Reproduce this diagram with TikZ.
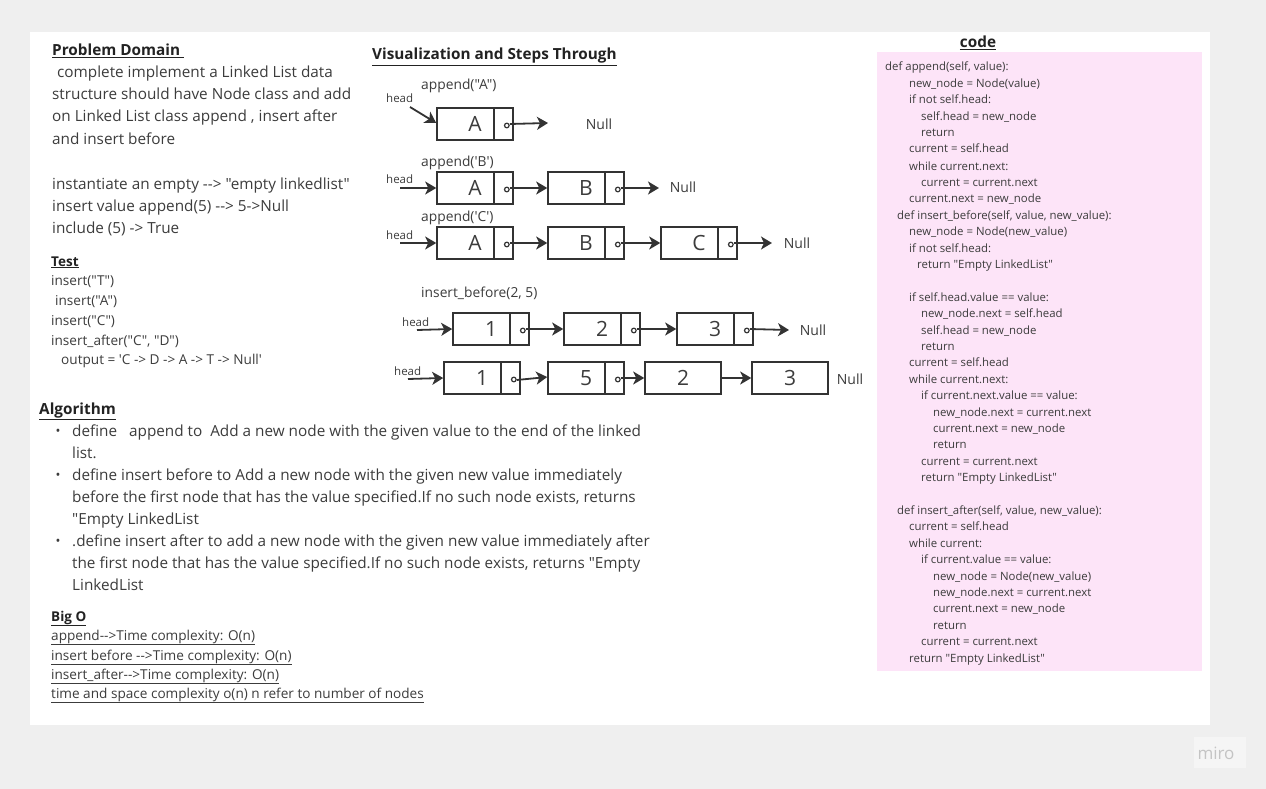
\documentclass[tikz,border=0pt]{standalone}
\usepackage{fontspec}
\setmainfont{Open Sans}[Ligatures=TeXOff]
\usetikzlibrary{arrows.meta}
\definecolor{bg}{HTML}{EFEFEF}
\definecolor{txt}{HTML}{3C3C3C}
\definecolor{ttl}{HTML}{222222}
\definecolor{ink}{HTML}{333333}
\definecolor{pinkbg}{HTML}{FDE4F8}
\definecolor{miroc}{HTML}{C4C4C4}
\newcommand\lptr[1]{%
  \draw[draw=ink,line width=1.6pt] ([xshift=-20pt]#1.north east) -- ([xshift=-20pt]#1.south east);
  \draw[draw=ink,line width=1.2pt] ([xshift=-7pt,yshift=-1.5pt]#1.east) circle (2.3pt);}
\begin{document}
\begin{tikzpicture}[x=1pt,y=-1pt,
  every node/.style={inner sep=0pt,text=txt},
  tl/.style={anchor=base west,font=\fontsize{15.3}{17}\selectfont},
  sm/.style={anchor=base west,font=\fontsize{13.6}{15}\selectfont},
  hd/.style={anchor=base west,font=\fontsize{15.3}{17}\selectfont\bfseries,text=ttl},
  hds/.style={anchor=base west,font=\fontsize{13.5}{15}\selectfont\bfseries,text=ttl},
  codeline/.style={anchor=base west,font=\fontsize{11.4}{13}\selectfont},
  lbl/.style={anchor=base west,font=\fontsize{13.8}{15}\selectfont},
  headlbl/.style={anchor=base west,font=\fontsize{11.5}{13}\selectfont},
  nul/.style={font=\fontsize{14}{16}\selectfont},
  cell/.style={draw=ink,line width=1.6pt,minimum width=76pt,minimum height=32pt,font=\fontsize{21}{21}\selectfont},
  arr/.style={draw=ink,line width=1.8pt,-{Stealth[length=11pt,width=13pt,inset=3pt]}},
]
\fill[bg] (0,0) rectangle (1266,789);
\useasboundingbox (0,0) rectangle (1266,789);
\fill[white] (30,32) rectangle (1210,725);
\fill[pinkbg] (877,52) rectangle (1202,671);
\fill[white!96!black] (1194,737) rectangle (1246,768);
\node[text=miroc,font=\fontsize{17}{17}\selectfont] (miro) at (1216,753) {miro};

% Problem domain
\node[hd] (pd) at (52,56) {\underline{Problem Domain\ }};
\foreach \y/\x/\t [count=\i] in {
 78/57/{complete implement a Linked List data},
 100/52/{structure should have Node class and add},
 122/52/{on Linked List class append , insert after},
 144/52/{and insert before},
 189/52/{instantiate an empty --> "empty linkedlist"},
 211/52/{insert value append(5) --> 5->Null},
 233/52/{include (5) -> True}}
 {\node[tl] (pd\i) at (\x,\y) {\t};}

% Test
\node[hds] (test) at (51,266) {\underline{Test}};
\foreach \y/\x/\t [count=\i] in {
 285/51/{insert("T")},
 305/55/{insert("A")},
 325/51/{insert("C")},
 345/51/{insert\_after("C", "D")},
 364/61/{output = 'C -> D -> A -> T -> Null'}}
 {\node[sm] (ts\i) at (\x,\y) {\t};}

% Algorithm
\node[hd] (alg) at (39,414) {\underline{Algorithm}};
\foreach \y/\t [count=\i] in {
 436/{define\ \ \ append to\ \ Add a new node with the given value to the end of the linked},
 458/{list.},
 480/{define insert before to Add a new node with the given new value immediately},
 502/{before the first node that has the value specified.If no such node exists, returns},
 524/{"Empty LinkedList},
 546/{.define insert after to add a new node with the given new value immediately after},
 568/{the first node that has the value specified.If no such node exists, returns "Empty},
 590/{LinkedList}}
 {\node[tl] (al\i) at (72,\y) {\t};}
\foreach \y [count=\i] in {431,475,541}
 {\node[font=\fontsize{13}{13}\selectfont] (bul\i) at (58,\y+1) {•};}

% Big O
\node[hds] (bigo) at (51,621) {\underline{Big O}};
\foreach \y/\t [count=\i] in {
 640/{append-->Time complexity: O(n)},
 660/{insert before -->Time complexity: O(n)},
 679/{insert\_after-->Time complexity: O(n)},
 698/{time and space complexity o(n) n refer to number of nodes}}
 {\node[sm] (bo\i) at (51,\y) {\underline{\t}};}

% Visualization
\node[hd] (vis) at (372,60) {\underline{Visualization and Steps Through}};

% row 1
\node[lbl] (l1) at (421,90) {append("A")};
\node[headlbl] (h1) at (386,103) {head};
\node[cell] (a1) at (475,124) {A}; \lptr{a1}
\coordinate (h1s) at (410,107);
\draw[arr] (h1s) -- ([yshift=1pt]a1.west);
\coordinate (e1) at (548,123);
\draw[arr] ([xshift=-4pt]a1.east) -- (e1);
\node[nul] (n1) at (599,124) {Null};

% row 2
\node[lbl] (l2) at (421,166) {append('B')};
\node[headlbl] (h2) at (386,183) {head};
\coordinate (h2s) at (400,188);
\node[cell] (a2) at (475,188) {A}; \lptr{a2}
\node[cell] (b2) at (586,188) {B}; \lptr{b2}
\draw[arr] (h2s) -- (a2.west);
\draw[arr] ([xshift=-4pt]a2.east) -- (b2.west);
\coordinate (e2) at (659,188);
\draw[arr] ([xshift=-4pt]b2.east) -- (e2);
\node[nul] (n2) at (683,187) {Null};

% row 3
\node[lbl] (l3) at (421,221) {append('C')};
\node[headlbl] (h3) at (386,239) {head};
\coordinate (h3s) at (400,243);
\node[cell] (a3) at (475,243) {A}; \lptr{a3}
\node[cell] (b3) at (586,243) {B}; \lptr{b3}
\node[cell] (c3) at (699,243) {C}; \lptr{c3}
\draw[arr] (h3s) -- (a3.west);
\draw[arr] ([xshift=-4pt]a3.east) -- (b3.west);
\draw[arr] ([xshift=-4pt]b3.east) -- (c3.west);
\coordinate (e3) at (772,243);
\draw[arr] ([xshift=-4pt]c3.east) -- (e3);
\node[nul] (n3) at (797,243) {Null};

% row 4
\node[lbl] (l4) at (421,297) {insert\_before(2, 5)};
\node[headlbl] (h4) at (402,326) {head};
\coordinate (h4s) at (417,330);
\node[cell] (p1) at (491,329) {1}; \lptr{p1}
\node[cell] (p2) at (602,329) {2}; \lptr{p2}
\node[cell] (p3) at (715,329) {3}; \lptr{p3}
\draw[arr] (h4s) -- (p1.west);
\draw[arr] ([xshift=-4pt]p1.east) -- (p2.west);
\draw[arr] ([xshift=-4pt]p2.east) -- (p3.west);
\coordinate (e4) at (789,330);
\draw[arr] ([xshift=-4pt]p3.east) -- (e4);
\node[nul] (n4) at (813,330) {Null};

% row 5
\node[headlbl] (h5) at (394,375) {head};
\coordinate (h5s) at (408,379);
\node[cell] (q1) at (482,378) {1}; \lptr{q1}
\node[cell] (q5) at (586,378) {5}; \lptr{q5}
\node[cell] (q2) at (683,378) {2};
\node[cell] (q3) at (790,378) {3};
\draw[arr] (h5s) -- (q1.west);
\draw[arr] ([xshift=-4pt,yshift=-2pt]q1.east) -- ([yshift=1pt]q5.west);
\draw[arr] ([xshift=-4pt]q5.east) -- (q2.west);
\draw[arr] (q2.east) -- (q3.west);
\node[nul] (n5) at (850,379) {Null};

% code
\node[hd,anchor=base] (codet) at (978,48) {\underline{code}};
\foreach \y/\x/\t [count=\i] in {
 67/885/{def append(self, value):},
 84/909/{new\_node = Node(value)},
 100/909/{if not self.head:},
 117/921/{self.head = new\_node},
 133/921/{return},
 149/909/{current = self.head},
 166/909/{while current.next:},
 182/921/{current = current.next},
 198/909/{current.next = new\_node},
 215/897/{def insert\_before(self, value, new\_value):},
 231/909/{new\_node = Node(new\_value)},
 248/909/{if not self.head:},
 264/917/{return "Empty LinkedList"},
 297/909/{if self.head.value == value:},
 313/921/{new\_node.next = self.head},
 330/921/{self.head = new\_node},
 346/921/{return},
 362/909/{current = self.head},
 379/909/{while current.next:},
 395/921/{if current.next.value == value:},
 412/933/{new\_node.next = current.next},
 428/933/{current.next = new\_node},
 444/933/{return},
 461/921/{current = current.next},
 477/921/{return "Empty LinkedList"},
 510/897/{def insert\_after(self, value, new\_value):},
 526/909/{current = self.head},
 543/909/{while current:},
 559/921/{if current.value == value:},
 576/933/{new\_node = Node(new\_value)},
 592/933/{new\_node.next = current.next},
 608/933/{current.next = new\_node},
 625/933/{return},
 641/921/{current = current.next},
 658/909/{return "Empty LinkedList"}}
 {\node[codeline] (c\i) at (\x,\y+4) {\t};}
\end{tikzpicture}
\end{document}
